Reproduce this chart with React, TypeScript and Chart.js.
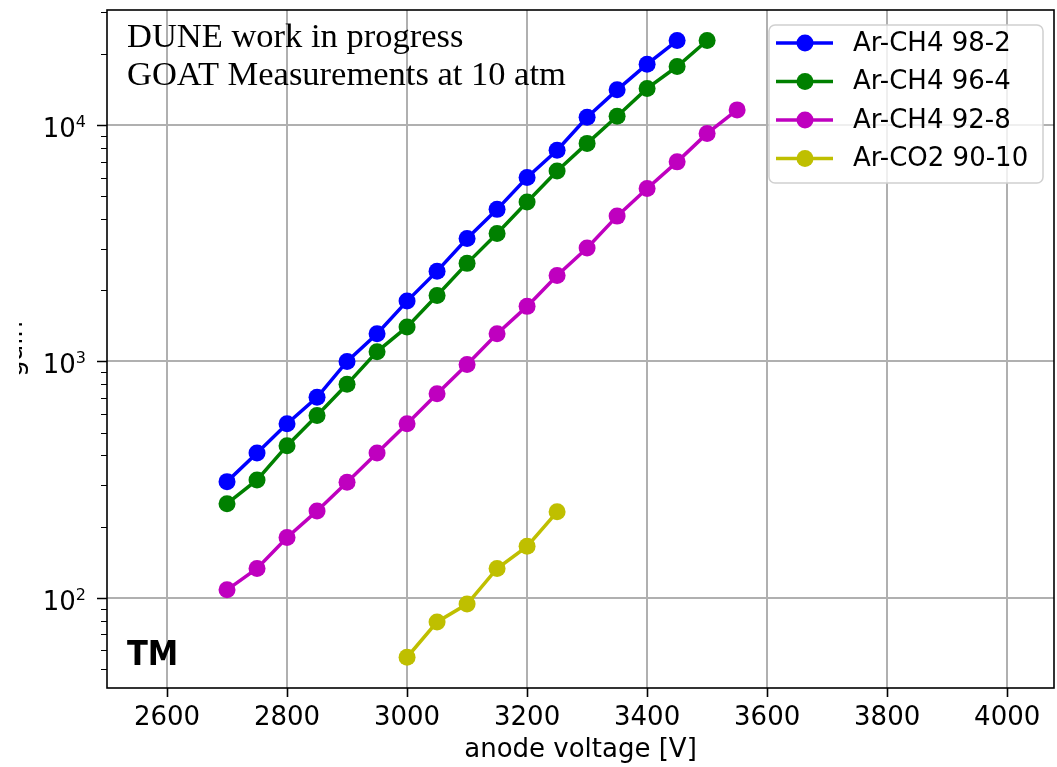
import React, { useEffect, useRef } from 'react';
import { Chart, registerables } from 'chart.js';

Chart.register(...registerables);

// ---- data ----
const voltage98 = [2700, 2750, 2800, 2850, 2900, 2950, 3000, 3050, 3100, 3150, 3200, 3250, 3300, 3350, 3400, 3450];
const gain98 = [310, 410, 545, 705, 1000, 1310, 1800, 2410, 3310, 4400, 6000, 7830, 10800, 14100, 18100, 22800];

const voltage96 = [2700, 2750, 2800, 2850, 2900, 2950, 3000, 3050, 3100, 3150, 3200, 3250, 3300, 3350, 3400, 3450, 3500];
const gain96 = [250, 315, 440, 590, 800, 1100, 1400, 1900, 2600, 3480, 4730, 6400, 8370, 10900, 14300, 17700, 22800];

const voltage92 = [2700, 2750, 2800, 2850, 2900, 2950, 3000, 3050, 3100, 3150, 3200, 3250, 3300, 3350, 3400, 3450, 3500, 3550];
const gain92 = [108, 133, 180, 233, 308, 410, 545, 730, 970, 1310, 1710, 2310, 3020, 4120, 5390, 6990, 9220, 11600];

const voltageCO2 = [3000, 3050, 3100, 3150, 3200, 3250];
const gainCO2 = [56, 79, 94, 133, 165, 231];

const seriesNames = ['Ar-CH4 98-2', 'Ar-CH4 96-4', 'Ar-CH4 92-8', 'Ar-CO2 90-10'];
const seriesColors = ['#0000ff', '#008000', '#bf00bf', '#bfbf00'];

const xTickValues = [2600, 2800, 3000, 3200, 3400, 3600, 3800, 4000];
const xTickLabels = ['2600', '2800', '3000', '3200', '3400', '3600', '3800', '4000'];
const yTickValues = [100, 1000, 10000];
const yTickBase = '10';
const yTickExponents = ['2', '3', '4'];
const yMinorTicks = [50, 60, 70, 80, 90, 200, 300, 400, 500, 600, 700, 800, 900, 2000, 3000, 4000, 5000, 6000, 7000, 8000, 9000, 20000, 30000];

const xMin = 2500;
const xMax = 4078;
const yMin = 41.5;
const yMax = 30700;

const annotationLines = ['DUNE work in progress', 'GOAT Measurements at 10 atm'];
const xAxisTitle = 'anode voltage [V]';
const yAxisTitle = 'gain';
const logoText = 'TM';

const toPoints = (xs: number[], ys: number[]) => xs.map((x, i) => ({ x, y: ys[i] }));

const zeroPadding = (scale: any) => {
  scale.paddingTop = 0;
  scale.paddingBottom = 0;
  scale.paddingLeft = 0;
  scale.paddingRight = 0;
};

const decorPlugin = {
  id: 'decor',
  beforeDraw(chart: any) {
    const { ctx, width, height } = chart;
    ctx.save();
    ctx.fillStyle = '#ffffff';
    ctx.fillRect(0, 0, width, height);
    ctx.restore();
  },
  afterDatasetsDraw(chart: any) {
    const { ctx, chartArea: a, scales } = chart;
    const xs = scales.x;
    const ys = scales.y;
    ctx.save();

    // spines
    ctx.strokeStyle = '#000000';
    ctx.lineWidth = 1.6;
    ctx.strokeRect(a.left, a.top, a.right - a.left, a.bottom - a.top);

    // major ticks
    ctx.beginPath();
    xTickValues.forEach((v) => {
      const p = Math.round(xs.getPixelForValue(v)) + 0.5;
      ctx.moveTo(p, a.bottom);
      ctx.lineTo(p, a.bottom + 9);
    });
    yTickValues.forEach((v) => {
      const p = Math.round(ys.getPixelForValue(v)) + 0.5;
      ctx.moveTo(a.left - 10, p);
      ctx.lineTo(a.left, p);
    });
    ctx.stroke();

    // minor ticks
    ctx.lineWidth = 1.2;
    ctx.beginPath();
    yMinorTicks.forEach((v) => {
      if (v < yMin || v > yMax) return;
      const p = Math.round(ys.getPixelForValue(v)) + 0.5;
      ctx.moveTo(a.left - 6, p);
      ctx.lineTo(a.left, p);
    });
    ctx.stroke();

    // y tick labels: 10 with superscript exponent
    ctx.fillStyle = '#000000';
    ctx.textBaseline = 'alphabetic';
    yTickValues.forEach((v, i) => {
      const p = ys.getPixelForValue(v);
      ctx.font = '16px "DejaVu Sans"';
      const ew = ctx.measureText(yTickExponents[i]).width;
      const right = a.left - 21;
      ctx.textAlign = 'right';
      ctx.fillText(yTickExponents[i], right, p + 2);
      ctx.font = '26px "DejaVu Sans"';
      ctx.fillText(yTickBase, right - ew, p + 12);
    });

    // annotation text
    ctx.textAlign = 'left';
    ctx.font = '34.5px "Liberation Serif"';
    ctx.fillText(annotationLines[0], a.left + 20, a.top + 37);
    ctx.fillText(annotationLines[1], a.left + 20, a.top + 75);

    // logo
    ctx.font = 'bold 34px "DejaVu Sans Condensed", "DejaVu Sans"';
    ctx.fillText(logoText, a.left + 20, a.bottom - 23);

    // legend
    const lx = a.right - 285;
    const ly = a.top + 15;
    const lw = 274;
    const lh = 158;
    ctx.beginPath();
    if ((ctx as any).roundRect) {
      (ctx as any).roundRect(lx, ly, lw, lh, 6);
    } else {
      ctx.rect(lx, ly, lw, lh);
    }
    ctx.fillStyle = 'rgba(255,255,255,0.8)';
    ctx.fill();
    ctx.strokeStyle = '#d0d0d0';
    ctx.lineWidth = 1.5;
    ctx.stroke();
    seriesNames.forEach((name, i) => {
      const cy = ly + 18 + i * 38.5;
      ctx.strokeStyle = seriesColors[i];
      ctx.lineWidth = 3.5;
      ctx.beginPath();
      ctx.moveTo(lx + 7, cy);
      ctx.lineTo(lx + 64, cy);
      ctx.stroke();
      ctx.fillStyle = seriesColors[i];
      ctx.beginPath();
      ctx.arc(lx + 36, cy, 8.5, 0, Math.PI * 2);
      ctx.fill();
      ctx.fillStyle = '#000000';
      ctx.font = '26px "DejaVu Sans"';
      ctx.textBaseline = 'middle';
      ctx.fillText(name, lx + 84, cy + 1);
    });

    // clipped y-axis title
    ctx.beginPath();
    ctx.rect(19, a.top, 30, a.bottom - a.top);
    ctx.clip();
    ctx.translate(22, (a.top + a.bottom) / 2);
    ctx.rotate(-Math.PI / 2);
    ctx.font = '26px "DejaVu Sans"';
    ctx.textAlign = 'center';
    ctx.textBaseline = 'alphabetic';
    ctx.fillStyle = '#000000';
    ctx.fillText(yAxisTitle, 0, 0);

    ctx.restore();
  },
};

export default function App() {
  const canvasRef = useRef<HTMLCanvasElement | null>(null);

  useEffect(() => {
    document.body.style.margin = '0';
    const canvas = canvasRef.current;
    if (!canvas) return;

    const data = {
      datasets: [
        { label: seriesNames[0], data: toPoints(voltage98, gain98) },
        { label: seriesNames[1], data: toPoints(voltage96, gain96) },
        { label: seriesNames[2], data: toPoints(voltage92, gain92) },
        { label: seriesNames[3], data: toPoints(voltageCO2, gainCO2) },
      ].map((d, i) => ({
        ...d,
        borderColor: seriesColors[i],
        backgroundColor: seriesColors[i],
        pointBackgroundColor: seriesColors[i],
        pointBorderWidth: 0,
        pointRadius: 8.5,
        borderWidth: 3.5,
        showLine: true,
        fill: false,
        tension: 0,
      })),
    };

    const chart = new Chart(canvas, {
      type: 'line',
      data: data as any,
      options: {
        animation: false,
        responsive: false,
        devicePixelRatio: 1,
        layout: { autoPadding: false, padding: { top: 10, right: 3, left: 0, bottom: 0 } },
        plugins: {
          legend: { display: false },
          tooltip: { enabled: false },
        },
        scales: {
          x: {
            type: 'linear',
            min: xMin,
            max: xMax,
            afterBuildTicks: (scale: any) => {
              scale.ticks = xTickValues.map((v) => ({ value: v }));
            },
            afterFit: (scale: any) => {
              scale.height = 79;
              zeroPadding(scale);
            },
            ticks: {
              callback: (_v: any, i: number) => xTickLabels[i],
              font: { family: 'DejaVu Sans', size: 26 },
              color: '#000000',
              padding: 15,
              maxRotation: 0,
              autoSkip: false,
            },
            grid: { color: '#b0b0b0', lineWidth: 2, drawTicks: false },
            border: { display: false },
            title: {
              display: true,
              text: xAxisTitle,
              font: { family: 'DejaVu Sans', size: 26 },
              color: '#000000',
              padding: { top: 0, bottom: 1 },
            },
          },
          y: {
            type: 'logarithmic',
            min: yMin,
            max: yMax,
            afterBuildTicks: (scale: any) => {
              scale.ticks = yTickValues.map((v) => ({ value: v }));
            },
            afterFit: (scale: any) => {
              scale.width = 107;
              zeroPadding(scale);
            },
            ticks: {
              display: false,
              autoSkip: false,
            },
            grid: { color: '#b0b0b0', lineWidth: 2, drawTicks: false },
            border: { display: false },
          },
        },
      } as any,
      plugins: [decorPlugin],
    });

    return () => {
      chart.destroy();
    };
  }, []);

  return (
    <div style={{ width: 1057, height: 767, position: 'relative' }}>
      <canvas ref={canvasRef} width={1057} height={767} style={{ display: 'block' }} />
    </div>
  );
}
